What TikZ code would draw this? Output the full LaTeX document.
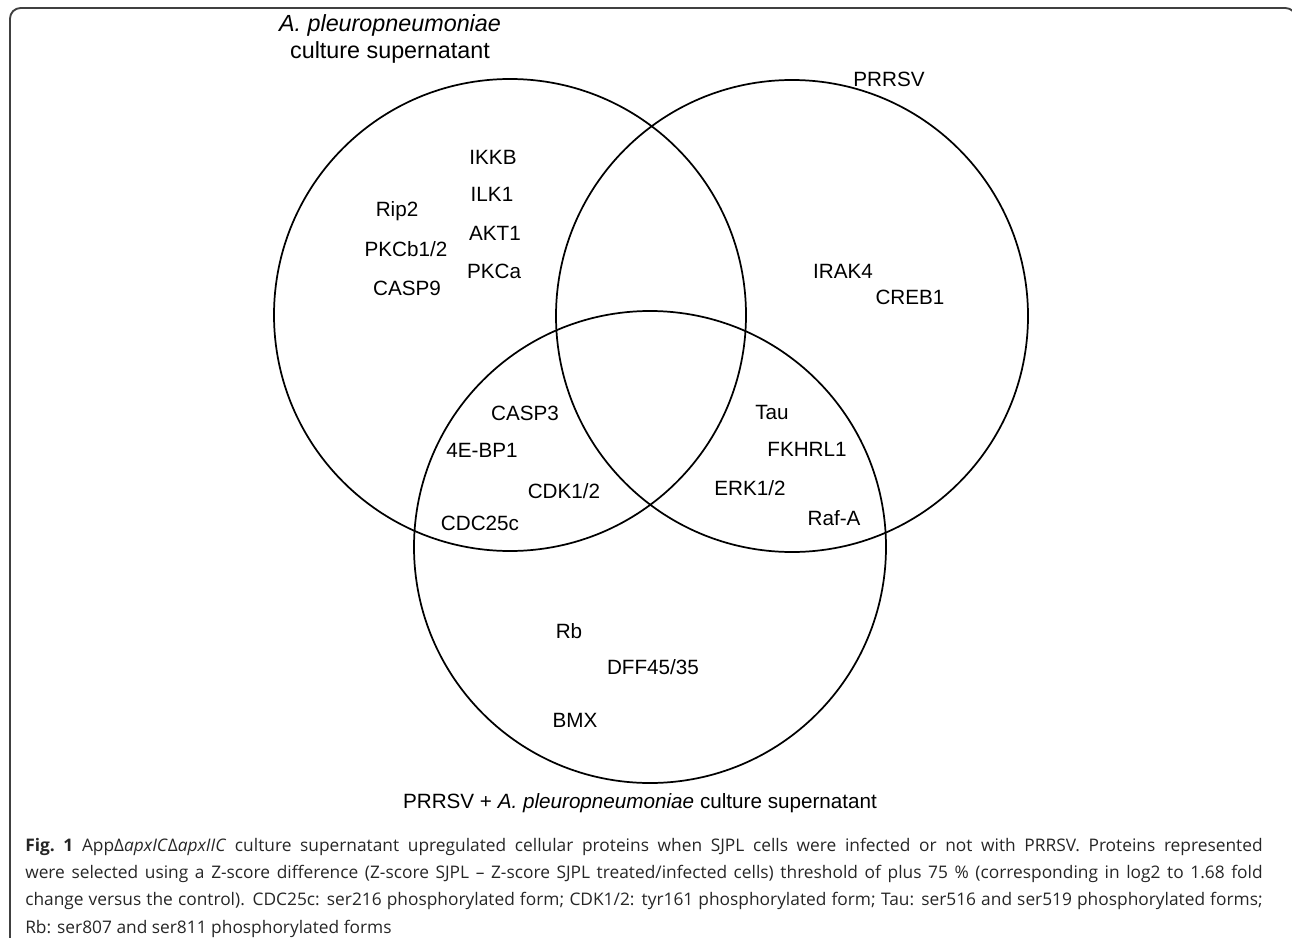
\documentclass[tikz,border=0pt]{standalone}
\usepackage{fontspec}
\setmainfont{Liberation Sans}
\newfontfamily\capfont{Open Sans}
\usetikzlibrary{positioning}

\begin{document}
\begin{tikzpicture}[
        x=0.75pt, y=-0.75pt,
        venn/.style={circle, draw=black, line width=1.3pt, minimum size=354pt, inner sep=0pt},
        prot/.style={font=\fontsize{15.5}{18}\selectfont, inner sep=1pt},
        setlabel/.style={font=\fontsize{15.5}{19}\selectfont, align=center, inner sep=1pt},
        frame/.style={draw=black!75, line width=1.4pt, rounded corners=8pt},
        caption/.style={font=\capfont\fontsize{13}{20.4}\selectfont, text=black!85, text width=928pt, align=justify, inner sep=0pt, anchor=north west}
    ]
        \useasboundingbox (0,0) rectangle (1292,938);
        \draw[frame] (10,950) -- (10,8) -- (1296,8) -- (1296,950);

        % the three sets
        \node[venn] (app) at (510,315) {};
        \node[venn] (prrsv) at (792,316) {};
        \node[venn] (both) at (650,547) {};

        \node[setlabel, font=\fontsize{17.5}{20.5}\selectfont] (applabel) at (390,39) {\textit{A. pleuropneumoniae}\\culture supernatant};
        \node[setlabel] (prrsvlabel) at (889,79) {PRRSV};
        \node[setlabel] (bothlabel) at (640,803) {PRRSV + \textit{A. pleuropneumoniae} culture supernatant};

        % A. pleuropneumoniae only
        \node[prot] (ikkb) at (493,157) {IKKB};
        \node[prot] (ilk1) at (492,194) {ILK1};
        \node[prot] (akt1) at (495,233) {AKT1};
        \node[prot] (pkca) at (494,271) {PKCa};
        \node[prot] (rip2) at (397,211) {Rip2};
        \node[prot] (pkcb) at (406,249) {PKCb1/2};
        \node[prot] (casp9) at (407,288) {CASP9};

        % PRRSV only
        \node[prot] (irak4) at (843,271) {IRAK4};
        \node[prot] (creb1) at (910,297) {CREB1};

        % A. pleuropneumoniae and both
        \node[prot] (casp3) at (525,413) {CASP3};
        \node[prot] (ebp1) at (482,450) {4E-BP1};
        \node[prot] (cdk12) at (564,491) {CDK1/2};
        \node[prot] (cdc25c) at (480,523) {CDC25c};

        % PRRSV and both
        \node[prot] (tau) at (772,412) {Tau};
        \node[prot] (fkhrl1) at (807,449) {FKHRL1};
        \node[prot] (erk12) at (750,488) {ERK1/2};
        \node[prot] (rafa) at (834,518) {Raf-A};

        % both only
        \node[prot] (rb) at (569,631) {Rb};
        \node[prot] (dff) at (653,667) {DFF45/35};
        \node[prot] (bmx) at (575,720) {BMX};

        \node[caption] (cap) at (25,838) {\textbf{Fig.~1} AppΔ\textit{apxIC}Δ\textit{apxIIC} culture supernatant upregulated cellular proteins when SJPL cells were infected or not with PRRSV. Proteins represented\linebreak were selected using a Z-score difference (Z-score SJPL – Z-score SJPL treated/infected cells) threshold of plus 75~\% (corresponding in log2 to 1.68 fold\linebreak change versus the control). CDC25c: ser216 phosphorylated form; CDK1/2: tyr161 phosphorylated form; Tau: ser516 and ser519 phosphorylated forms;\linebreak Rb: ser807 and ser811 phosphorylated forms};
    \end{tikzpicture}
\end{document}
